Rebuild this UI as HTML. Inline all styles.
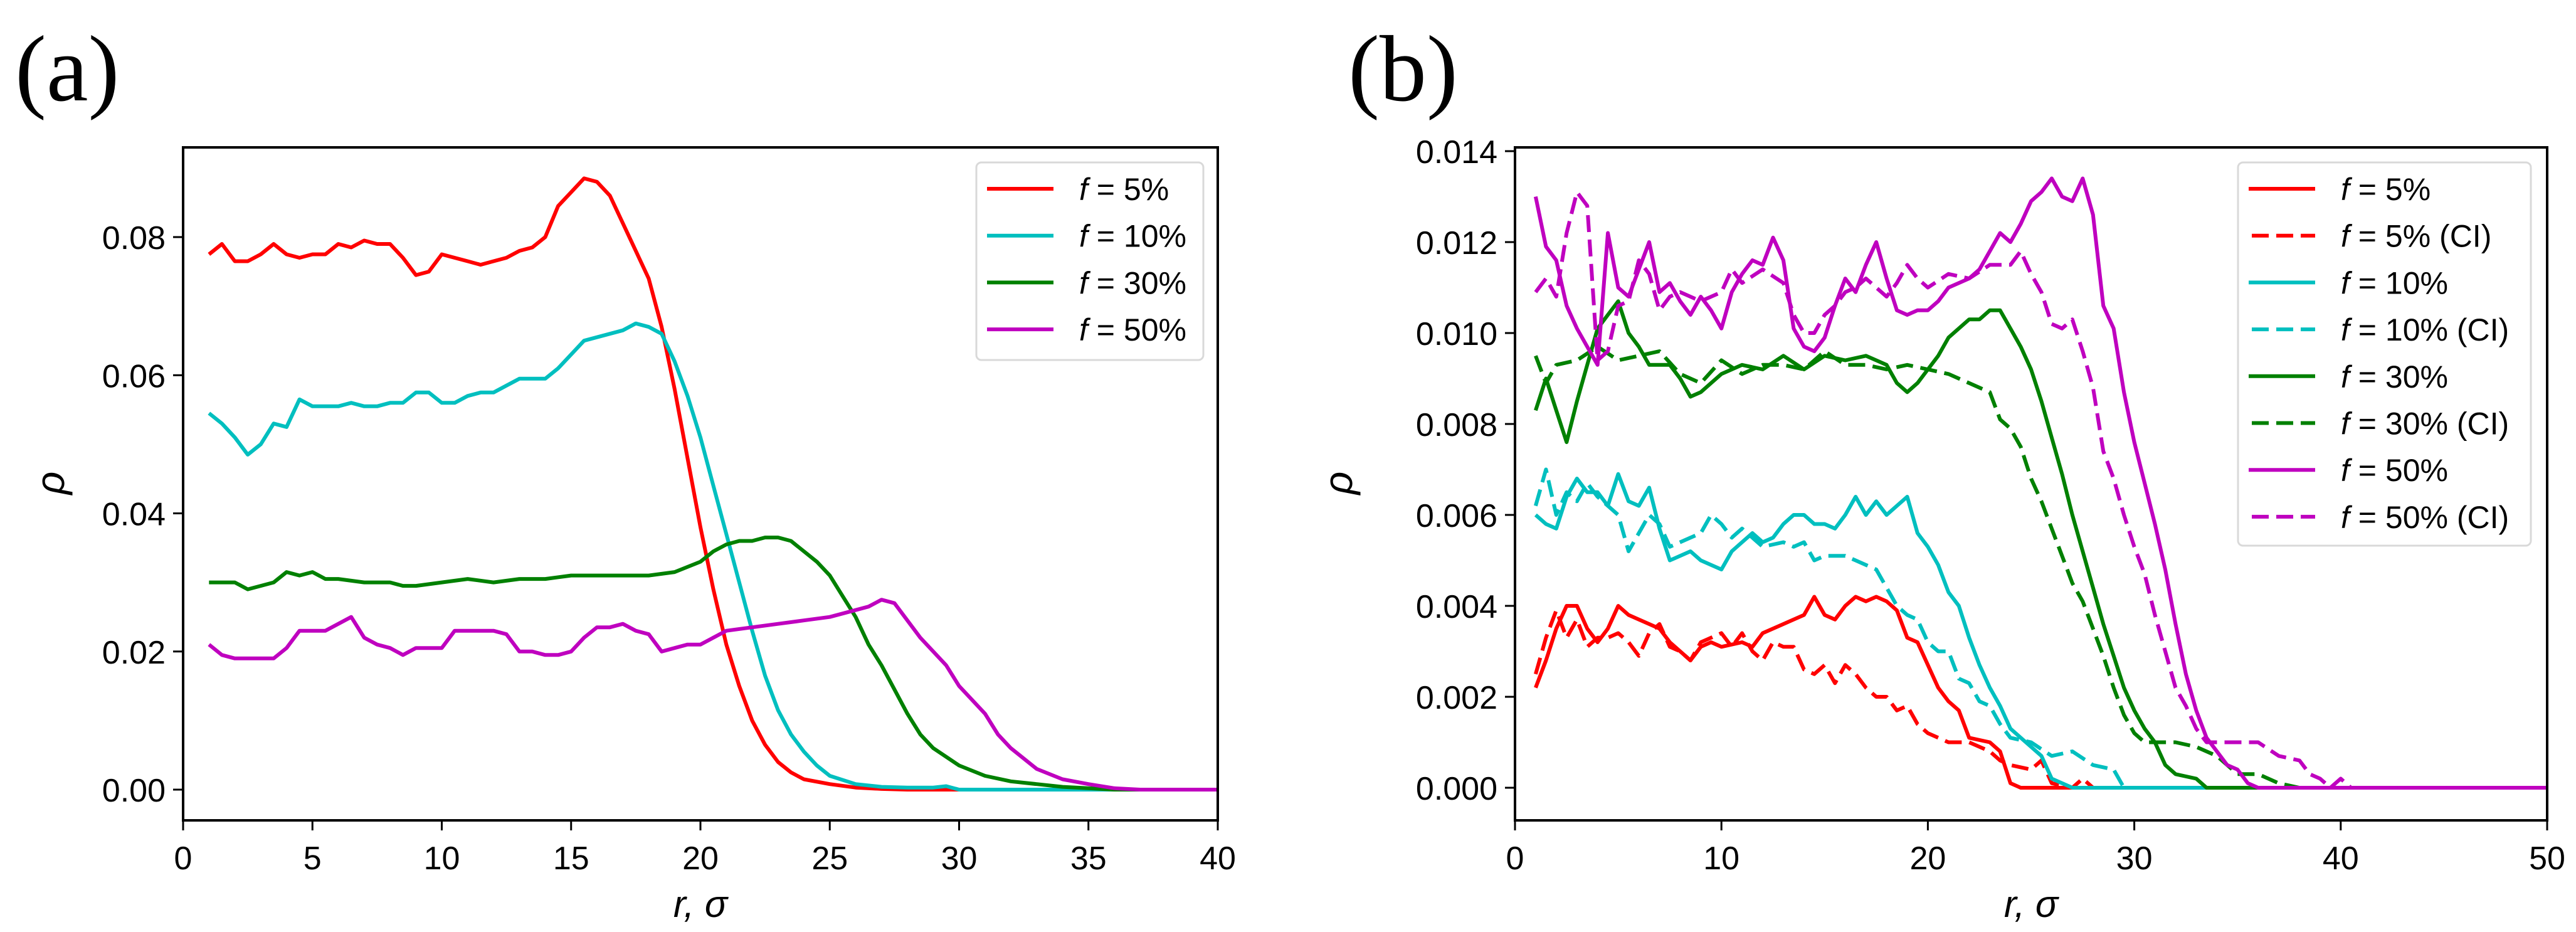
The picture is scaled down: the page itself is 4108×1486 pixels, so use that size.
<!DOCTYPE html>
<html><head><meta charset="utf-8">
<style>
html,body{margin:0;padding:0;background:#fff;}
svg{display:block;}
text{font-family:"Liberation Sans","DejaVu Sans",sans-serif;fill:#000;}
</style></head>
<body>
<svg id="fig" width="4108" height="1486" viewBox="0 0 4108 1486" xmlns="http://www.w3.org/2000/svg">
<text x="24" y="160" style="font-family:'Liberation Serif',serif;font-size:150px">(a)</text>
<text x="2150" y="160" style="font-family:'Liberation Serif',serif;font-size:150px">(b)</text>
<g id="pa"></g>
<g id="pb"></g>
</svg>
<script>
// ---- Panel (a) data ----
const aTicksX = [0,5,10,15,20,25,30,35,40];
const aTicksY = [0,0.02,0.04,0.06,0.08];
const aTickLabelsY = ["0.00","0.02","0.04","0.06","0.08"];
const a5x = [1,1.5,2,2.5,3,3.5,4,4.5,5,5.5,6,6.5,7,7.5,8,8.5,9,9.5,10,10.5,11,11.5,12,12.5,13,13.5,14,14.5,15,15.5,16,16.5,17,17.5,18,18.5,19,19.5,20,20.5,21,21.5,22,22.5,23,23.5,24,25,26,27,28,30,40];
const a5y = [0.0775,0.079,0.0765,0.0765,0.0775,0.079,0.0775,0.077,0.0775,0.0775,0.079,0.0785,0.0795,0.079,0.079,0.077,0.0745,0.075,0.0775,0.077,0.0765,0.076,0.0765,0.077,0.078,0.0785,0.080,0.0845,0.0865,0.0885,0.088,0.086,0.082,0.078,0.074,0.067,0.058,0.048,0.038,0.029,0.021,0.015,0.010,0.0065,0.004,0.0025,0.0015,0.0008,0.0003,0.0001,0,0,0];
const a10x = [1,1.5,2,2.5,3,3.5,4,4.5,5,5.5,6,6.5,7,7.5,8,8.5,9,9.5,10,10.5,11,11.5,12,12.5,13,13.5,14,14.5,15,15.5,16,16.5,17,17.5,18,18.5,19,19.5,20,20.5,21,21.5,22,22.5,23,23.5,24,24.5,25,26,27,28,29,29.5,30,40];
const a10y = [0.0545,0.053,0.051,0.0485,0.050,0.053,0.0525,0.0565,0.0555,0.0555,0.0555,0.056,0.0555,0.0555,0.056,0.056,0.0575,0.0575,0.056,0.056,0.057,0.0575,0.0575,0.0585,0.0595,0.0595,0.0595,0.061,0.063,0.065,0.0655,0.066,0.0665,0.0675,0.067,0.066,0.062,0.057,0.051,0.044,0.037,0.030,0.023,0.0165,0.0115,0.008,0.0055,0.0035,0.002,0.0008,0.0004,0.0003,0.0003,0.0005,0,0];
const a30x = [1,2,2.5,3,3.5,4,4.5,5,5.5,6,7,8,8.5,9,10,11,12,13,14,15,16,17,18,19,20,20.5,21,21.5,22,22.5,23,23.5,24,24.5,25,25.5,26,26.5,27,27.5,28,28.5,29,30,31,32,33,34,35,36,40];
const a30y = [0.030,0.030,0.029,0.0295,0.030,0.0315,0.031,0.0315,0.0305,0.0305,0.030,0.030,0.0295,0.0295,0.030,0.0305,0.030,0.0305,0.0305,0.031,0.031,0.031,0.031,0.0315,0.033,0.0345,0.0355,0.036,0.036,0.0365,0.0365,0.036,0.0345,0.033,0.031,0.028,0.025,0.021,0.018,0.0145,0.011,0.008,0.006,0.0035,0.002,0.0012,0.0008,0.0004,0.0002,0,0];
const a50x = [1,1.5,2,2.5,3,3.5,4,4.5,5,5.5,6,6.5,7,7.5,8,8.5,9,9.5,10,10.5,11,11.5,12,12.5,13,13.5,14,14.5,15,15.5,16,16.5,17,17.5,18,18.5,19,19.5,20,20.5,21,22,23,24,25,26,26.5,27,27.5,28,28.5,29,29.5,30,30.5,31,31.5,32,33,34,35,36,37,40];
const a50y = [0.021,0.0195,0.019,0.019,0.019,0.019,0.0205,0.023,0.023,0.023,0.024,0.025,0.022,0.021,0.0205,0.0195,0.0205,0.0205,0.0205,0.023,0.023,0.023,0.023,0.0225,0.020,0.020,0.0195,0.0195,0.020,0.022,0.0235,0.0235,0.024,0.023,0.0225,0.020,0.0205,0.021,0.021,0.022,0.023,0.0235,0.024,0.0245,0.025,0.026,0.0265,0.0275,0.027,0.0245,0.022,0.020,0.018,0.015,0.013,0.011,0.008,0.006,0.003,0.0015,0.0008,0.0002,0,0];

// ---- Panel (b) data ----
const bTicksX = [0,10,20,30,40,50];
const bTicksY = [0,0.002,0.004,0.006,0.008,0.010,0.012,0.014];
const bTickLabelsY = ["0.000","0.002","0.004","0.006","0.008","0.010","0.012","0.014"];
const b5x = [1,1.5,2,2.5,3,3.5,4,4.5,5,5.5,6,6.5,7,7.5,8,8.5,9,9.5,10,11,11.5,12,13,13.5,14,14.5,15,15.5,16,16.5,17,17.5,18,18.5,19,19.5,20,20.5,21,21.5,22,23,23.5,24,24.5,50];
const b5y = [0.0022,0.0028,0.0035,0.004,0.004,0.0035,0.0032,0.0035,0.004,0.0038,0.0037,0.0036,0.0035,0.0032,0.003,0.0028,0.0031,0.0032,0.0031,0.0032,0.0031,0.0034,0.0036,0.0037,0.0038,0.0042,0.0038,0.0037,0.004,0.0042,0.0041,0.0042,0.0041,0.0039,0.0033,0.0032,0.0027,0.0022,0.0019,0.0017,0.0011,0.001,0.0008,0.0001,0,0];
const b5cx = [1,1.5,2,2.5,3,3.5,4,4.5,5,5.5,6,6.5,7,7.5,8,8.5,9,9.5,10,10.5,11,11.5,12,12.5,13,13.5,14,14.5,15,15.5,16,16.5,17,17.5,18,18.5,19,19.5,20,20.5,21,22,23,23.5,24,25,25.5,26,27,27.5,28,50];
const b5cy = [0.0025,0.0033,0.0039,0.0033,0.0037,0.0031,0.0033,0.0033,0.0034,0.0032,0.0029,0.0034,0.0036,0.0031,0.003,0.0028,0.0032,0.0033,0.0034,0.0031,0.0034,0.003,0.0028,0.0032,0.0031,0.0031,0.0026,0.0025,0.0027,0.0023,0.0027,0.0025,0.0022,0.002,0.002,0.0017,0.0018,0.0014,0.0012,0.0011,0.001,0.001,0.0008,0.0006,0.0005,0.0004,0.0006,0.0001,0,0.0002,0,0];
const b10x = [1,1.5,2,2.5,3,3.5,4,4.5,5,5.5,6,6.5,7,7.5,8,8.5,9,9.5,10,10.5,11,11.5,12,12.5,13,13.5,14,14.5,15,15.5,16,16.5,17,17.5,18,18.5,19,19.5,20,20.5,21,21.5,22,22.5,23,23.5,24,24.5,25,25.5,26,27,50];
const b10y = [0.006,0.0058,0.0057,0.0064,0.0068,0.0065,0.0065,0.0062,0.0069,0.0063,0.0062,0.0066,0.0057,0.005,0.0051,0.0052,0.005,0.0049,0.0048,0.0052,0.0054,0.0056,0.0054,0.0055,0.0058,0.006,0.006,0.0058,0.0058,0.0057,0.006,0.0064,0.006,0.0063,0.006,0.0062,0.0064,0.0056,0.0053,0.0049,0.0043,0.004,0.0033,0.0027,0.0022,0.0018,0.0013,0.0011,0.0009,0.0007,0.0002,0,0];
const b10cx = [1,1.5,2,2.5,3,3.5,4,4.5,5,5.5,6,6.5,7,7.5,8,8.5,9,9.5,10,10.5,11,11.5,12,13,13.5,14,14.5,15,16,16.5,17,17.5,18,18.5,19,19.5,20,20.5,21,21.5,22,22.5,23,23.5,24,25,26,27,28,29,29.5,50];
const b10cy = [0.0062,0.007,0.006,0.0065,0.0063,0.0067,0.0064,0.0062,0.006,0.0052,0.0056,0.006,0.0058,0.0053,0.0054,0.0055,0.0056,0.006,0.0058,0.0055,0.0057,0.0055,0.0053,0.0054,0.0053,0.0054,0.005,0.0051,0.0051,0.005,0.0049,0.0048,0.0044,0.004,0.0038,0.0037,0.0032,0.003,0.003,0.0024,0.0023,0.0019,0.0018,0.0014,0.0011,0.001,0.0007,0.0008,0.0005,0.0004,0,0];
const b30x = [1,1.5,2,2.5,3,3.5,4,4.5,5,5.5,6,6.5,7,7.5,8,8.5,9,9.5,10,10.5,11,12,13,14,15,16,17,18,18.5,19,19.5,20,20.5,21,22,22.5,23,23.5,24,24.5,25,25.5,26,26.5,27,27.5,28,28.5,29,29.5,30,30.5,31,31.5,32,33,33.5,50];
const b30y = [0.0083,0.009,0.0083,0.0076,0.0085,0.0093,0.0101,0.0104,0.0107,0.01,0.0097,0.0093,0.0093,0.0093,0.009,0.0086,0.0087,0.0089,0.0091,0.0092,0.0093,0.0092,0.0095,0.0092,0.0095,0.0094,0.0095,0.0093,0.0089,0.0087,0.0089,0.0092,0.0095,0.0099,0.0103,0.0103,0.0105,0.0105,0.0101,0.0097,0.0092,0.0085,0.0077,0.0069,0.006,0.0052,0.0044,0.0036,0.0029,0.0022,0.0017,0.0013,0.001,0.0005,0.0003,0.0002,0,0];
const b30cx = [1,1.5,2,3,4,5,6,7,8,9,10,11,12,13,14,15,16,17,18,19,20,21,22,23,23.5,24,24.5,25,25.5,26,26.5,27,27.5,28,28.5,29,29.5,30,30.5,31,32,33,34,35,36,37,38,50];
const b30cy = [0.0095,0.0089,0.0093,0.0094,0.0097,0.0094,0.0095,0.0096,0.0091,0.0089,0.0094,0.0091,0.0093,0.0093,0.0092,0.0096,0.0093,0.0093,0.0092,0.0093,0.0092,0.0091,0.0089,0.0087,0.0081,0.0079,0.0075,0.0068,0.0063,0.0057,0.0051,0.0045,0.0041,0.0035,0.0029,0.0022,0.0016,0.0012,0.001,0.001,0.001,0.0009,0.0007,0.0003,0.0003,0.0001,0,0];
const b50x = [1,1.5,2,2.5,3,3.5,4,4.5,5,5.5,6,6.5,7,7.5,8,8.5,9,9.5,10,10.5,11,11.5,12,12.5,13,13.5,14,14.5,15,15.5,16,16.5,17,17.5,18,18.5,19,19.5,20,20.5,21,22,22.5,23,23.5,24,24.5,25,25.5,26,26.5,27,27.5,28,28.5,29,29.5,30,30.5,31,31.5,32,32.5,33,33.5,34,34.5,35,35.5,36,50];
const b50y = [0.013,0.0119,0.0116,0.0106,0.0101,0.0097,0.0093,0.0122,0.011,0.0108,0.0114,0.012,0.0109,0.0111,0.0107,0.0104,0.0108,0.0105,0.0101,0.0109,0.0113,0.0116,0.0115,0.0121,0.0116,0.0101,0.0097,0.0096,0.0099,0.0106,0.0112,0.0109,0.0115,0.012,0.0112,0.0105,0.0104,0.0105,0.0105,0.0107,0.011,0.0112,0.0114,0.0118,0.0122,0.012,0.0124,0.0129,0.0131,0.0134,0.013,0.0129,0.0134,0.0126,0.0106,0.0101,0.0087,0.0076,0.0067,0.0058,0.0048,0.0036,0.0025,0.0017,0.0011,0.0008,0.0005,0.0004,0.0001,0,0];
const b50cx = [1,1.5,2,2.5,3,3.5,4,4.5,5,5.5,6,6.5,7,7.5,8,9,10,10.5,11,12,13,13.5,14,14.5,15,15.5,16,16.5,17,17.5,18,18.5,19,19.5,20,21,22,23,24,24.5,25,25.5,26,26.5,27,27.5,28,28.5,29,29.5,30,30.5,31,31.5,32,32.5,33,33.5,34,35,36,37,38,38.5,39,39.5,40,40.5,50];
const b50cy = [0.0109,0.0112,0.0108,0.0122,0.0131,0.0128,0.0094,0.0096,0.0106,0.0107,0.0116,0.0113,0.0105,0.0108,0.0109,0.0107,0.0109,0.0114,0.0111,0.0114,0.0111,0.0104,0.01,0.01,0.0104,0.0106,0.0109,0.011,0.0112,0.011,0.0108,0.0111,0.0115,0.0112,0.011,0.0113,0.0112,0.0115,0.0115,0.0118,0.0113,0.0109,0.0102,0.0101,0.0103,0.0096,0.0088,0.0074,0.0068,0.006,0.0053,0.0047,0.0038,0.003,0.0022,0.0018,0.0013,0.001,0.001,0.001,0.001,0.0007,0.0006,0.0003,0.0002,0,0.0002,0,0];

const NS = "http://www.w3.org/2000/svg";
function mk(parent, tag, attrs){
  const e = document.createElementNS(NS, tag);
  for (const k in attrs) e.setAttribute(k, attrs[k]);
  parent.appendChild(e);
  return e;
}
const C = {red:"#ff0000", cyan:"#00bfbf", green:"#008000", mag:"#bf00bf"};

function drawPanel(g, cfg){
  const sx = v => cfg.x0 + (v - cfg.xmin)/(cfg.xmax - cfg.xmin)*(cfg.x1 - cfg.x0);
  const sy = v => cfg.yz + (v - 0)/(cfg.ytop - 0)*(cfg.yt - cfg.yz);
  // series
  cfg.series.forEach(s => {
    const d = s.x.map((xv,i)=> (i?"L":"M") + sx(xv).toFixed(1) + "," + sy(s.y[i]).toFixed(1)).join(" ");
    const p = mk(g, "path", {d:d, fill:"none", stroke:s.c, "stroke-width":6, "stroke-linejoin":"round", "stroke-dasharray": s.dash ? "27 12" : "none"});
    
    
  });
  // frame
  const fr = mk(g, "rect", {x:cfg.x0, y:cfg.ft, width:cfg.x1-cfg.x0, height:cfg.fb-cfg.ft, fill:"none", stroke:"#000", "stroke-width":4});
  
  
  // x ticks
  cfg.tx.forEach(t => {
    const X = sx(t);
    const tl = mk(g, "line", {x1:X, x2:X, y1:cfg.fb, y2:cfg.fb+16, stroke:"#000", "stroke-width":3});
    
    
    const tt = mk(g, "text", {x:X, y:cfg.fb+78, "text-anchor":"middle", "font-size":52});
    tt.textContent = String(t);
    
    
  });
  cfg.ty.forEach((t,i) => {
    const Y = sy(t);
    const tl = mk(g, "line", {x1:cfg.x0-16, x2:cfg.x0, y1:Y, y2:Y, stroke:"#000", "stroke-width":3});
    
    
    const tt = mk(g, "text", {x:cfg.x0-28, y:Y+19, "text-anchor":"end", "font-size":52});
    tt.textContent = cfg.tyl[i];
    
    
  });
  // axis titles
  const xt = mk(g, "text", {x:(cfg.x0+cfg.x1)/2, y:1462, "text-anchor":"middle", "font-size":60, "font-style":"italic"});
  xt.textContent = "r, σ";
  
  
  const yt = mk(g, "text", {x:0, y:0, "text-anchor":"middle", "font-size":64, "font-style":"italic", transform:`translate(${cfg.x0-cfg.ylabOff},770) rotate(-90)`});
  yt.textContent = "ρ";
  
  
  // legend
  const L = cfg.leg;
  const lb = mk(g, "rect", {x:L.x, y:259, width:L.w, height:L.h, rx:8, fill:"#fff", "fill-opacity":0.8, stroke:"#d9d9d9", "stroke-width":3});
  
  
  cfg.series.filter(s=>s.label).forEach((s,i) => {
    const Y = 301 + i*74.7;
    const ll = mk(g, "line", {x1:L.x+17, x2:L.x+123, y1:Y, y2:Y, stroke:s.c, "stroke-width":6, "stroke-dasharray": s.dash ? "27 12" : "none", "stroke-dashoffset": s.dash ? -5 : 0});
    
    
    const lt = mk(g, "text", {x:L.x+164, y:Y+18, "font-size":50});
    lt.innerHTML = '<tspan font-style="italic">f</tspan> = ' + s.label;
    
    
  });
}

drawPanel(document.getElementById("pa"), {
  x0:292, x1:1942, xmin:0, xmax:40, yz:1259, yt:378, ytop:0.08, ft:235, fb:1308, ylabOff:190,
  tx:aTicksX, ty:aTicksY, tyl:aTickLabelsY,
  leg:{x:1557, w:362, h:315},
  series:[
    {x:a5x, y:a5y, c:C.red, label:"5%", name:"line-f5"},
    {x:a10x, y:a10y, c:C.cyan, label:"10%", name:"line-f10"},
    {x:a30x, y:a30y, c:C.green, label:"30%", name:"line-f30"},
    {x:a50x, y:a50y, c:C.mag, label:"50%", name:"line-f50"}
  ]
});
drawPanel(document.getElementById("pb"), {
  x0:2416, x1:4062, xmin:0, xmax:50, yz:1256, yt:241, ytop:0.014, ft:235, fb:1308, ylabOff:260,
  tx:bTicksX, ty:bTicksY, tyl:bTickLabelsY,
  leg:{x:3569, w:467, h:611},
  series:[
    {x:b5x, y:b5y, c:C.red, label:"5%", name:"line-f5"},
    {x:b5cx, y:b5cy, c:C.red, dash:true, label:"5% (CI)", name:"line-f5-ci"},
    {x:b10x, y:b10y, c:C.cyan, label:"10%", name:"line-f10"},
    {x:b10cx, y:b10cy, c:C.cyan, dash:true, label:"10% (CI)", name:"line-f10-ci"},
    {x:b30x, y:b30y, c:C.green, label:"30%", name:"line-f30"},
    {x:b30cx, y:b30cy, c:C.green, dash:true, label:"30% (CI)", name:"line-f30-ci"},
    {x:b50x, y:b50y, c:C.mag, label:"50%", name:"line-f50"},
    {x:b50cx, y:b50cy, c:C.mag, dash:true, label:"50% (CI)", name:"line-f50-ci"}
  ]
});
</script>
</body></html>
